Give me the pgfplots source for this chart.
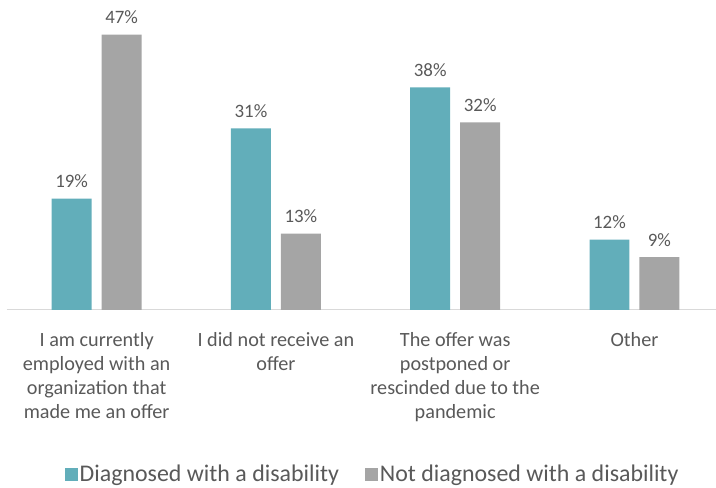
\documentclass[border=0pt]{standalone}
\usepackage{pgfplots}
\pgfplotsset{compat=1.18}
\usepackage{fontspec}
\setmainfont{Carlito}
\definecolor{teal1}{HTML}{62AEBA}
\definecolor{gray1}{HTML}{A5A5A5}
\definecolor{txt}{HTML}{595959}
\definecolor{axl}{HTML}{D9D9D9}
\begin{document}
\begin{tikzpicture}
\path (0,0) rectangle (716bp,482bp);
\begin{axis}[
  at={(7bp,172bp)}, anchor=south west,
  scale only axis, width=709bp, height=293bp,
  xmin=-0.5, xmax=3.452, ymin=0, ymax=50,
  hide y axis,
  axis x line*=bottom,
  x axis line style={axl, line width=1pt},
  xtick={0,1,2,3},
  xticklabels={I am currently\\employed with an\\organization that\\made me an offer, I did not receive an\\offer, The offer was\\postponed or\\rescinded due to the\\pandemic, Other},
  major tick length=0pt,
  xticklabel style={align=center, font=\fontsize{20.3}{24}\selectfont, text=txt, yshift=-19bp},
  /pgf/number format/assume math mode=true,
  ybar, bar width=40bp,
  nodes near coords={\pgfmathprintnumber{\pgfplotspointmeta}\%},
  every node near coord/.append style={font=\fontsize{19}{20}\selectfont, text=txt, yshift=7bp},
  legend style={at={(0.516,-0.562)}, anchor=center, draw=none, font=\fontsize{24}{26}\selectfont, text=txt, legend columns=2, /tikz/every even column/.append style={column sep=24bp}},
  legend image code/.code={\fill[#1] (0bp,-6.5bp) rectangle (13bp,6.5bp);},
  clip=false,
]
\addplot[fill=teal1, draw=none, bar shift=-25bp] coordinates {(0,19) (1,31) (2,38) (3,12)};
\addplot[fill=gray1, draw=none, bar shift=25bp] coordinates {(0,47) (1,13) (2,32) (3,9)};
\legend{Diagnosed with a disability, Not diagnosed with a disability}
\end{axis}
\end{tikzpicture}
\end{document}
